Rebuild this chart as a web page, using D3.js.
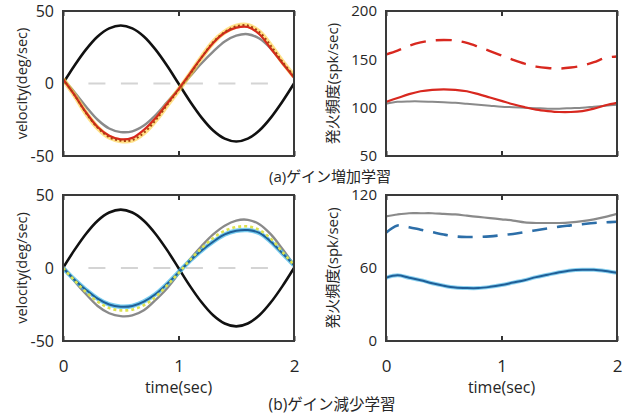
<!DOCTYPE html>
<html>
<head>
<meta charset="utf-8">
<script src="https://cdn.jsdelivr.net/npm/d3@7"></script>
<style>
  body { margin: 0; background: #fff; }
  svg { display: block; font-family: 'Open Sans', 'Noto Sans CJK JP', sans-serif; }
</style>
</head>
<body>
<svg width="625" height="418"></svg>
<script>
'use strict';

// time samples (sec)
const times = [0, 0.1, 0.2, 0.3, 0.4, 0.5, 0.6, 0.7, 0.8, 0.9, 1.0, 1.1, 1.2, 1.3, 1.4, 1.5, 1.6, 1.7, 1.8, 1.9, 2.0]
const xTicks = [0, 1, 2]
const zeroTimes = [0.22, 1.78]
const zeroVals = [0, 0]

const velTicks = [-50, 0, 50]
const rateTicksA = [50, 100, 150, 200]
const rateTicksB = [0, 60, 120]

// eye velocity, target
const targetVel = [0, 12.4, 23.5, 32.4, 38, 40, 38, 32.4, 23.5, 12.4, 0, -12.4, -23.5, -32.4, -38, -40, -38, -32.4, -23.5, -12.4, 0]

// (a) gain up
const grayVelA = [3, -6, -16, -25, -31, -33.5, -33, -29, -22, -13, -4, 5, 14, 22, 29, 33, 34, 31, 24, 14, 5]
const redVelA = [3, -8, -20, -30, -36, -38.5, -37.5, -32, -24, -14, -4, 7, 18, 28, 35, 38.5, 39, 34, 24, 14, 4]
const dotVelA = [3, -8, -20.5, -30.5, -37, -39.5, -39, -34, -25.5, -15, -4.5, 6.5, 18, 28.5, 35.5, 39.5, 40, 35.5, 26, 15, 5]
const redDashRateA = [155, 159, 164, 167.5, 169.5, 170, 169.5, 167, 163, 158.5, 154, 149.5, 145.5, 142.5, 141, 140.5, 141.5, 143.5, 147, 151.5, 153]
const redRateA = [106, 110, 114, 117, 118.5, 119, 118.5, 117, 114, 110.5, 107, 103.5, 100.5, 98, 96.5, 95.5, 95.5, 96.5, 99, 102.5, 105]
const grayRateA = [104, 106, 106.5, 106.5, 106, 105.5, 105, 104, 103, 102, 101, 100.5, 100, 99.5, 99, 99, 99.5, 100, 101, 102, 103]

// (b) gain down
const grayVelB = [1, -9, -18, -26, -31, -33, -32.5, -29, -22, -14, -4, 6, 15, 23, 29, 32.5, 33, 30, 23, 13, 2]
const blueVelB = [0, -8, -15, -21, -25, -26.5, -26, -23, -18, -11, -3, 5, 12, 18, 23, 25.5, 26, 24, 18, 10, 2]
const dotVelB = [0, -8.5, -16.5, -23, -27.5, -29, -28.5, -25.5, -20, -12, -3.5, 5.5, 13.5, 20.5, 25.5, 28, 28.5, 26, 20, 11, 2]
const grayRateB = [102.5, 104, 105, 105, 105, 104.5, 104, 103, 102, 101, 100, 99, 97.5, 97, 97, 97, 97.5, 98.5, 100, 102, 104.5]
const blueDashRateB = [89, 95, 93.5, 91.5, 89.5, 87.5, 86, 85.5, 85.5, 86, 87, 88, 89.5, 91, 92.5, 94, 95, 96, 97, 97.5, 98]
const blueRateB = [52, 54, 52, 50, 47.5, 45.5, 44, 43.5, 43.5, 44.5, 46, 48, 50, 52.5, 54.5, 56.5, 58, 58.5, 58.5, 57.5, 56]

const svg = d3.select('svg')

const GRAY = '#8a8a8a'
const RED = '#d8281f'
const BLUE = '#1f5f98'
const INK = '#262626'

function drawPanel(p) {
  const g = svg.append('g').attr('transform', 'translate(' + p.left + ',' + p.top + ')')
  const x = d3.scaleLinear().domain([0, 2]).range([0, p.w])
  const y = d3.scaleLinear().domain(p.yDomain).range([p.h, 0])

  const clip = 'clip' + p.id
  g.append('clipPath').attr('id', clip).append('rect').attr('width', p.w).attr('height', p.h)
  const plot = g.append('g').attr('clip-path', 'url(#' + clip + ')')

  if (p.zero) {
    plot.append('path')
      .attr('d', d3.line().x((d) => x(d[0])).y((d) => y(d[1]))(d3.zip(zeroTimes, zeroVals)))
      .style('fill', 'none').style('stroke', '#d4d4d4').style('stroke-width', 2)
      .style('stroke-dasharray', '17 15.5')
  }

  const line = d3.line().x((d) => x(d[0])).y((d) => y(d[1])).curve(d3.curveCatmullRom)
  p.series.forEach((s) => {
    const pts = d3.zip(times, s.values)
    s.layers.forEach((l) => {
      plot.append('path').attr('d', line(pts))
        .style('fill', 'none')
        .style('stroke', l.color)
        .style('stroke-width', l.width)
        .style('stroke-opacity', l.opacity || 1)
        .style('stroke-dasharray', l.dash || null)
    })
  })

  // y axis labels
  const yAxis = d3.axisLeft(y).tickValues(p.yTicks).tickSize(0).tickPadding(9).tickFormat((d) => String(d))
  const ya = g.append('g').call(yAxis)
  ya.select('.domain').remove()
  ya.selectAll('text').style('font-size', p.yFont + 'px').style('fill', INK)
    .style('font-family', "'Open Sans', sans-serif")

  // ticks at top and bottom, inward
  const xb = g.append('g').attr('transform', 'translate(0,' + p.h + ')')
    .call(d3.axisBottom(x).tickValues(xTicks).tickSize(-5).tickPadding(19).tickFormat((d) => String(d)))
  xb.select('.domain').remove()
  xb.selectAll('line').style('stroke', '#333').style('stroke-width', 2)
  if (p.showX) {
    xb.selectAll('text').style('font-size', '17px').style('fill', INK)
      .style('font-family', "'Open Sans', sans-serif")
  } else {
    xb.selectAll('text').remove()
  }
  const xt = g.append('g').call(d3.axisTop(x).tickValues(xTicks).tickSize(-5))
  xt.select('.domain').remove()
  xt.selectAll('text').remove()
  xt.selectAll('line').style('stroke', '#333').style('stroke-width', 2)

  g.append('rect').attr('width', p.w).attr('height', p.h)
    .style('fill', 'none').style('stroke', '#3a3a3a').style('stroke-width', 2)

  g.append('text')
    .attr('transform', 'translate(' + p.ylabelX + ',' + (p.h / 2) + ') rotate(-90)')
    .attr('text-anchor', 'middle').attr('dominant-baseline', 'central')
    .style('font-size', p.ylabelFont + 'px').style('fill', INK)
    .text(p.ylabel)

  if (p.showX) {
    g.append('text')
      .attr('x', p.w / 2).attr('y', p.h + 46)
      .attr('text-anchor', 'middle').attr('dominant-baseline', 'central')
      .style('font-size', '16px').style('fill', INK)
      .text('time(sec)')
  }
}

const blackLayer = [{color: '#111', width: 2.6}]
const grayLayer = [{color: GRAY, width: 2.4}]

drawPanel({
  id: 'a1', left: 63, top: 11, w: 231, h: 145, yDomain: [-50, 50], yTicks: velTicks, yFont: 16,
  zero: true, showX: false, ylabel: 'velocity(deg/sec)', ylabelX: -42, ylabelFont: 14.5,
  series: [
    {values: targetVel, layers: blackLayer},
    {values: grayVelA, layers: grayLayer},
    {values: dotVelA, layers: [{color: '#ffcf3a', width: 5, opacity: 0.6}]},
    {values: redVelA, layers: [{color: RED, width: 2.2}]},
    {values: dotVelA, layers: [{color: '#a8400f', width: 2, dash: '2 2.5'}]}
  ]
})

drawPanel({
  id: 'a2', left: 386, top: 11, w: 231, h: 145, yDomain: [50, 200], yTicks: rateTicksA, yFont: 15,
  zero: false, showX: false, ylabel: '発火頻度(spk/sec)', ylabelX: -54, ylabelFont: 15,
  series: [
    {values: grayRateA, layers: [{color: GRAY, width: 2}]},
    {values: redDashRateA, layers: [{color: RED, width: 2.4, dash: '16 10'}]},
    {values: redRateA, layers: [{color: RED, width: 2.2}]}
  ]
})

drawPanel({
  id: 'b1', left: 63, top: 195, w: 231, h: 146, yDomain: [-50, 50], yTicks: velTicks, yFont: 16,
  zero: true, showX: true, ylabel: 'velocity(deg/sec)', ylabelX: -42, ylabelFont: 14.5,
  series: [
    {values: targetVel, layers: blackLayer},
    {values: grayVelB, layers: grayLayer},
    {values: blueVelB, layers: [{color: '#3fb6e8', width: 4.5, opacity: 0.7}, {color: BLUE, width: 2}]},
    {values: dotVelB, layers: [{color: '#dde24f', width: 2.6, dash: '3 3'}]}
  ]
})

drawPanel({
  id: 'b2', left: 386, top: 195, w: 231, h: 146, yDomain: [0, 120], yTicks: rateTicksB, yFont: 15,
  zero: false, showX: true, ylabel: '発火頻度(spk/sec)', ylabelX: -54, ylabelFont: 15,
  series: [
    {values: grayRateB, layers: [{color: GRAY, width: 2.2}]},
    {values: blueDashRateB, layers: [{color: '#2c6ea8', width: 2.6, dash: '15 10'}]},
    {values: blueRateB, layers: [{color: '#3fb6e8', width: 4, opacity: 0.6}, {color: BLUE, width: 2}]}
  ]
})

svg.append('text').attr('x', 330).attr('y', 176)
  .attr('text-anchor', 'middle').attr('dominant-baseline', 'central')
  .style('font-size', '15px').style('fill', INK)
  .text('(a)ゲイン増加学習')

svg.append('text').attr('x', 332).attr('y', 404)
  .attr('text-anchor', 'middle').attr('dominant-baseline', 'central')
  .style('font-size', '15.5px').style('fill', INK)
  .text('(b)ゲイン減少学習')
</script>
</body>
</html>
